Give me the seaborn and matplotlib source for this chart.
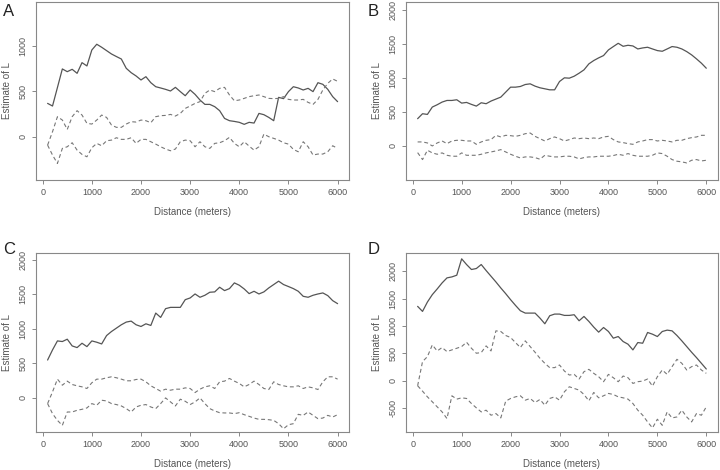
import numpy as np
import pandas as pd
import matplotlib
matplotlib.use("Agg")
import matplotlib.pyplot as plt
import seaborn as sns

# distances (meters), 100 m steps
dist = np.arange(100, 6100, 100)

# ----------------------------
# Panel A
# ----------------------------
a_obs = [366, 337, 540, 744, 714, 740, 696, 813, 777, 952,
         1015, 982, 945, 908, 880, 853, 751, 703, 667, 623,
         659, 593, 549, 535, 520, 502, 542, 495, 450, 513,
         465, 403, 355, 355, 330, 286, 201, 176, 168, 158,
         136, 158, 150, 256, 242, 212, 176, 432, 418, 495,
         549, 535, 513, 531, 495, 593, 575, 520, 440, 385]
a_hi = [-92, 55, 220, 183, 80, 220, 286, 238, 147, 139,
        183, 238, 212, 128, 103, 103, 139, 165, 161, 183,
        176, 154, 220, 231, 234, 245, 227, 256, 311, 337,
        366, 385, 476, 513, 495, 531, 542, 458, 395, 403,
        421, 440, 450, 458, 440, 421, 418, 421, 440, 410,
        403, 403, 410, 377, 355, 410, 513, 586, 634, 608]
a_lo = [-92, -201, -293, -128, -110, -66, -147, -194, -220, -121,
        -73, -99, -44, -37, -11, -29, -29, -11, -73, -29,
        -29, -55, -81, -110, -135, -154, -135, -55, -37, -44,
        -110, -55, -110, -128, -73, -66, -44, -7, -73, -110,
        -55, -103, -147, -110, 29, 0, -18, -37, -66, -81,
        -139, -165, -55, -110, -201, -190, -190, -165, -99, -128]

# ----------------------------
# Panel B
# ----------------------------
b_obs = [400, 473, 463, 571, 605, 644, 668, 668, 678, 629,
         639, 610, 585, 634, 620, 659, 688, 717, 790, 863,
         863, 873, 902, 912, 878, 854, 839, 824, 824, 946,
         1000, 995, 1024, 1068, 1117, 1205, 1254, 1293, 1327, 1410,
         1459, 1507, 1463, 1478, 1468, 1424, 1439, 1449, 1424, 1400,
         1390, 1424, 1459, 1449, 1424, 1385, 1337, 1278, 1215, 1141]
b_hi = [59, 59, 44, 0, 44, 73, 34, 73, 83, 83,
        73, 73, 24, 59, 83, 93, 156, 132, 156, 151,
        141, 156, 180, 190, 141, 107, 73, 107, 132, 107,
        73, 93, 117, 107, 117, 107, 117, 107, 132, 141,
        93, 59, 49, 34, 24, 59, 73, 93, 93, 73,
        83, 73, 59, 83, 83, 107, 122, 132, 156, 156]
b_lo = [-98, -200, -63, -102, -122, -102, -137, -151, -151, -102,
        -137, -137, -137, -122, -102, -88, -73, -54, -88, -122,
        -151, -176, -161, -161, -171, -195, -137, -151, -161, -161,
        -151, -151, -161, -190, -171, -161, -161, -151, -151, -151,
        -141, -122, -137, -112, -137, -151, -151, -151, -137, -102,
        -112, -151, -200, -224, -234, -249, -210, -200, -220, -210]

# ----------------------------
# Panel C
# ----------------------------
c_obs = [546, 693, 824, 815, 849, 751, 727, 790, 741, 824,
         805, 780, 902, 961, 1010, 1059, 1098, 1112, 1059, 1034,
         1073, 1049, 1229, 1166, 1293, 1312, 1312, 1312, 1424, 1449,
         1507, 1459, 1488, 1532, 1537, 1605, 1556, 1585, 1668, 1634,
         1580, 1512, 1546, 1507, 1537, 1595, 1644, 1693, 1644, 1615,
         1585, 1546, 1473, 1459, 1488, 1507, 1522, 1483, 1410, 1366]
c_hi = [-88, 83, 268, 180, 239, 190, 171, 156, 132, 215,
        268, 268, 288, 302, 288, 268, 244, 244, 263, 268,
        229, 171, 132, 93, 122, 107, 122, 122, 141, 132,
        73, 122, 156, 171, 132, 229, 239, 278, 239, 205,
        156, 190, 239, 190, 132, 117, 229, 190, 171, 156,
        156, 171, 132, 156, 141, 117, 229, 302, 302, 268]
c_lo = [-88, -234, -332, -405, -210, -210, -185, -171, -151, -88,
        -112, -39, -49, -88, -102, -122, -161, -210, -137, -112,
        -102, -137, -161, -88, -5, -63, -122, -24, -54, -102,
        -63, -5, -88, -161, -195, -220, -224, -224, -234, -220,
        -249, -273, -298, -317, -317, -322, -332, -380, -454, -395,
        -380, -244, -259, -210, -259, -307, -298, -259, -283, -249]

# ----------------------------
# Panel D
# ----------------------------
d_obs = [1358, 1266, 1437, 1572, 1676, 1786, 1878, 1896, 1927, 2226,
         2122, 2031, 2049, 2122, 2012, 1908, 1804, 1694, 1590, 1480,
         1376, 1278, 1235, 1235, 1235, 1144, 1040, 1187, 1217, 1217,
         1193, 1193, 1205, 1095, 1174, 1083, 979, 887, 972, 899,
         777, 807, 716, 667, 563, 697, 685, 881, 850, 807,
         899, 924, 911, 826, 728, 624, 520, 422, 318, 214]
d_hi = [-92, 349, 440, 654, 544, 606, 532, 563, 593, 624,
        703, 593, 502, 514, 636, 544, 911, 899, 826, 789,
        697, 606, 728, 624, 520, 410, 318, 239, 239, 287,
        177, 104, 116, 31, 165, 208, 135, 73, -18, 116,
        55, -18, 86, 55, -49, -18, -6, 31, -98, 73,
        196, 116, 257, 391, 318, 196, 257, 287, 196, 135]
d_lo = [-92, -190, -294, -385, -477, -569, -691, -275, -336, -312,
        -324, -416, -495, -569, -538, -630, -599, -679, -373, -324,
        -294, -275, -355, -324, -398, -342, -446, -324, -294, -355,
        -202, -110, -141, -171, -251, -367, -214, -312, -275, -232,
        -251, -294, -312, -336, -416, -538, -630, -752, -862, -703,
        -814, -569, -679, -661, -538, -661, -752, -599, -630, -477]

panels = [
    ("A", a_obs, a_hi, a_lo, (-475, 1480), [0, 500, 1000]),
    ("B", b_obs, b_hi, b_lo, (-500, 2115), [0, 500, 1000, 1500, 2000]),
    ("C", c_obs, c_hi, c_lo, (-500, 2105), [0, 500, 1000, 1500, 2000]),
    ("D", d_obs, d_hi, d_lo, (-935, 2335), [-500, 0, 500, 1000, 1500, 2000]),
]

# axes positions in figure fractions (left, bottom, width, height)
positions = [
    (0.050, 0.617, 0.435, 0.379),
    (0.564, 0.617, 0.433, 0.379),
    (0.050, 0.081, 0.435, 0.381),
    (0.564, 0.081, 0.433, 0.381),
]
# panel letter anchors (top-left), figure fractions
letter_pos = [(0.004, 0.992), (0.511, 0.992), (0.004, 0.485), (0.511, 0.485)]

sns.set_style("ticks")
plt.rcParams["font.family"] = ["Liberation Sans", "DejaVu Sans"]

fig = plt.figure(figsize=(7.2, 4.7), dpi=100)
txt = "#555555"

for (letter, obs, hi, lo, ylim, yticks), pos, lp in zip(panels, positions, letter_pos):
    ax = fig.add_axes(pos)
    sns.lineplot(x=dist, y=obs, ax=ax, color="#555555", linewidth=0.9)
    sns.lineplot(x=dist, y=hi, ax=ax, color="#777777", linewidth=0.8,
                 linestyle=(0, (3.5, 2.5)))
    sns.lineplot(x=dist, y=lo, ax=ax, color="#777777", linewidth=0.8,
                 linestyle=(0, (3.5, 2.5)))
    ax.set_xlim(-136, 6236)
    ax.set_ylim(*ylim)
    ax.set_xticks(range(0, 7000, 1000))
    ax.set_yticks(yticks)
    ax.set_yticklabels([str(v) for v in yticks], rotation=90, va="center")
    ax.tick_params(axis="both", colors="#888888", labelcolor=txt,
                   labelsize=6.5, length=3, width=0.7, pad=3)
    for s in ax.spines.values():
        s.set_color("#888888")
        s.set_linewidth(0.8)
    ax.set_xlabel("Distance (meters)", fontsize=7, color=txt, labelpad=7)
    ax.set_ylabel("Estimate of L", fontsize=7, color=txt, labelpad=5)
    fig.text(lp[0], lp[1], letter, fontsize=12, color="#222222",
             ha="left", va="top")

plt.savefig("out.png", dpi=100)
plt.close()
